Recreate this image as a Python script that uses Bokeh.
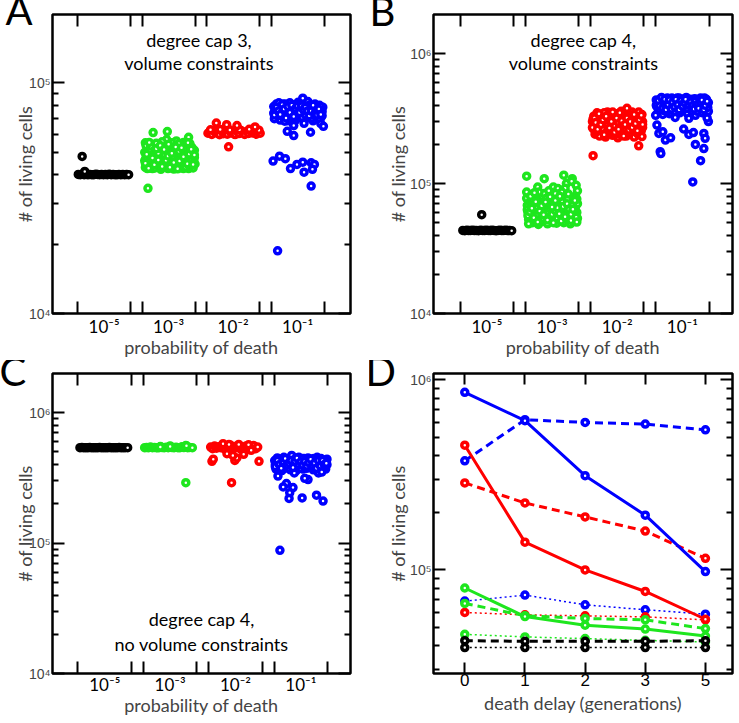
from bokeh.plotting import figure
from bokeh.models import Range1d, FixedTicker, LinearAxis, LogAxis, Label
from bokeh.layouts import gridplot
from bokeh.embed import file_html
from bokeh.resources import INLINE

FONT = "Lato"
TICKFONT = "Liberation Sans"
BLACK, GREEN, RED, BLUE = "#000000", "#1ee61e", "#ff0000", "#0000ff"

# ---------------- data ----------------
prob_labels = ["10⁻⁵", "10⁻³", "10⁻²", "10⁻¹"]
group_pos = [1, 2, 3, 4]

# Panel A: degree cap 3, volume constraints (offset inside group, value in thousands)
A_black_dx = [-0.40,-0.37,-0.34,-0.31,-0.28,-0.25,-0.22,-0.19,-0.16,-0.13,-0.10,-0.07,-0.04,-0.01,0.02,0.05,0.08,0.11,0.14,0.17,0.20,0.23,0.26,0.29,0.32,0.35,0.38,-0.34,-0.30]
A_black_k = [40.1,40.0,40.2,40.0,40.1,40.0,40.1,40.0,40.0,40.2,40.1,40.0,40.1,40.0,40.1,40.0,40.2,40.0,40.1,40.0,40.0,40.1,40.0,40.1,40.0,40.1,40.0,48.0,41.3]
A_green_dx = [-0.36,-0.24,-0.02,0.31,-0.03,0.23,0.12,-0.32,-0.37,-0.37,-0.36,-0.33,-0.32,-0.30,-0.28,-0.27,-0.25,-0.23,-0.22,-0.20,-0.18,-0.17,-0.15,-0.13,-0.12,-0.10,-0.08,-0.07,-0.05,-0.03,-0.01,0.01,0.03,0.05,0.06,0.08,0.10,0.11,0.13,0.15,0.17,0.18,0.20,0.22,0.24,0.26,0.27,0.29,0.31,0.32,0.34,0.35,0.37,0.38,0.39,0.40,0.41,0.33,-0.35,0.05,-0.19,0.26,0.36,
              -0.35,-0.31,-0.29,-0.26,-0.24,-0.21,-0.19,-0.16,-0.14,-0.11,-0.09,-0.06,-0.04,-0.02,0.00,0.02,0.04,0.07,0.09,0.12,0.14,0.16,0.19,0.21,0.23,0.25,0.28,0.30,0.33,0.36,0.38,0.40,-0.33,0.16,-0.10,
              -0.36,-0.34,-0.31,-0.28,-0.25,-0.22,-0.19,-0.16,-0.13,-0.10,-0.07,-0.04,-0.01,0.02,0.05,0.08,0.11,0.14,0.17,0.20,0.23,0.26,0.29,0.32,0.35,0.38,0.40,-0.30,0.00,0.30]
A_green_k = [55.0,60.9,61.5,58.1,56.8,55.1,56.0,34.9,50.0,46.0,43.0,48.0,52.5,44.5,47.0,50.5,42.5,45.0,53.0,49.0,43.5,47.0,51.0,45.0,42.2,48.5,53.5,44.0,46.5,50.0,42.5,47.5,44.0,52.0,49.0,42.3,46.0,50.5,44.5,48.0,42.8,53.0,46.5,50.0,43.5,48.0,45.5,52.0,42.5,47.0,50.0,44.0,48.5,42.8,46.0,51.0,44.5,54.5,53.5,55.0,54.8,53.8,52.5,
             47.5,45.5,51.5,44.0,48.0,42.8,46.0,49.5,43.0,52.0,45.5,48.5,43.5,52.5,45.0,49.5,42.8,47.0,51.0,43.5,46.5,50.5,44.5,48.0,42.5,51.0,46.0,49.5,43.5,46.5,50.0,47.5,42.5,54.5,55.5,
             44.8,49.0,42.6,53.2,47.3,44.2,51.8,46.3,53.5,43.4,51.4,46.2,48.2,43.1,49.5,45.2,52.7,42.4,45.8,52.3,47.8,43.2,44.6,49.2,51.5,44.3,48.7,55.2,54.2,55.0]
A_red_dx = [-0.39,-0.36,-0.33,-0.30,-0.27,-0.24,-0.21,-0.18,-0.15,-0.12,-0.09,-0.06,-0.03,0.00,0.03,0.06,0.09,0.12,0.15,0.18,0.21,0.24,0.27,0.30,0.33,0.36,0.39,0.42,-0.35,-0.20,-0.05,0.10,0.25,0.40,-0.26,-0.10,0.06,0.34,-0.07]
A_red_k = [60.5,61.5,59.8,62.0,60.8,61.2,59.6,62.3,60.2,61.0,59.9,62.1,60.6,61.4,59.7,61.8,60.3,62.2,60.9,59.8,61.6,60.4,62.0,60.7,61.3,59.9,61.1,60.5,62.6,62.8,62.5,62.7,62.9,62.4,67.0,65.9,65.3,64.4,52.8]
A_blue_dx = [-0.37,-0.37,-0.36,-0.33,-0.32,-0.30,-0.28,-0.27,-0.25,-0.23,-0.22,-0.20,-0.18,-0.17,-0.15,-0.13,-0.12,-0.10,-0.08,-0.07,-0.05,-0.03,-0.01,0.01,0.03,0.05,0.06,0.08,0.09,0.11,0.13,0.15,0.16,0.18,0.20,0.22,0.24,0.25,0.27,0.29,0.30,0.32,0.34,0.35,0.37,0.38,0.39,-0.20,0.10,0.36,
             -0.35,-0.31,-0.29,-0.26,-0.24,-0.21,-0.19,-0.16,-0.14,-0.11,-0.09,-0.06,-0.04,-0.02,0.00,0.02,0.04,0.07,0.10,0.12,0.14,0.17,0.19,0.21,0.23,0.26,0.28,0.31,0.33,0.36,0.38,
             -0.36,-0.33,-0.30,-0.27,-0.24,-0.21,-0.18,-0.15,-0.12,-0.09,-0.06,-0.03,0.00,0.03,0.06,0.09,0.12,0.15,0.18,0.21,0.24,0.27,0.30,0.33,0.36,
             -0.06,-0.16,-0.06,0.20,0.40,-0.38,-0.28,-0.19,-0.11,-0.01,0.08,0.21,0.26,0.10,0.23,0.21,-0.31]
A_blue_k = [79,74,70,81,76,72,79,69,75,81,71,77,73,80,68.5,75,82,71,78,73,80.5,69,76,82.5,72,78,74,85.9,69.5,80,75.5,71,83,77,73,79.5,68.5,75,81,71.5,77.5,73.5,80,69.5,76,72,78.5,68.2,66.8,66.5,
            77,74,82,72,78,74,81,76,72,78,74,76,71,79,73.5,77,81,71,76,72.5,78,74,80.5,70,76,72.5,78,75,70.5,79,75,
            72.5,78.5,75.5,73,80.5,77,70.5,79,74.5,80,71.5,77.5,79.5,74.5,79.5,76.5,78.5,75.5,72,75.5,80,74,72.5,77,73,
            65.3,61.7,59.1,61.1,64.8,45.8,48.1,46.9,42.5,44.3,45.3,45.0,44.3,41.0,42.2,35.7,18.7]

# Panel B: degree cap 4, volume constraints
B_black_dx = [-0.37,-0.34,-0.31,-0.28,-0.25,-0.22,-0.19,-0.16,-0.13,-0.10,-0.07,-0.04,-0.01,0.02,0.05,0.08,0.11,0.14,0.17,0.20,0.23,0.26,0.29,0.32,0.35,0.38,-0.08]
B_black_k = [43.6,43.4,43.7,43.5,43.6,43.8,43.5,43.6,43.4,43.7,43.6,43.5,43.8,43.6,43.5,43.7,43.6,43.4,43.6,43.8,43.5,43.6,43.7,43.5,43.6,43.4,57.6]
B_green_dx = [-0.39,-0.12,0.18,0.31,-0.39,0.02,-0.22,0.09,0.22,0.30,0.37,0.39,0.36,0.28,0.21,0.20,
              -0.39,-0.38,-0.37,-0.36,-0.34,-0.33,-0.31,-0.30,-0.29,-0.27,-0.26,-0.24,-0.22,-0.21,-0.19,-0.18,-0.16,-0.15,-0.13,-0.12,-0.10,-0.09,-0.07,-0.06,-0.04,-0.02,-0.01,0.01,0.03,0.04,0.06,0.07,0.09,0.11,0.12,0.14,0.15,0.17,0.18,0.20,0.22,0.23,0.25,0.27,0.28,0.30,0.32,0.33,0.35,0.36,0.38,0.39,0.39,
              -0.38,-0.35,-0.32,-0.30,-0.28,-0.25,-0.23,-0.20,-0.17,-0.14,-0.11,-0.08,-0.05,-0.03,0.00,0.02,0.05,0.08,0.10,0.13,0.16,0.19,0.21,0.24,0.26,0.29,0.31,0.34,0.37,0.38,-0.33,-0.20,-0.05,0.05,-0.36,
              -0.37,-0.34,-0.31,-0.28,-0.25,-0.22,-0.19,-0.16,-0.13,-0.10,-0.07,-0.04,-0.01,0.02,0.05,0.08,0.11,0.14,0.17,0.20,0.23,0.26,0.29,0.32,0.35,0.38,-0.27,0.00,0.12,0.25]
B_green_k = [114,109,116,109,86,94,94,91.5,100,104,97,88,80,78,84,92,
             77,68,60,53,72,64,57,50,81,69,61,54,75,48.5,66,58,51,71,62,84,55,77,49,67,59,73,52,64,80,56,70,49.5,61,75,54,66,86,58,50,71,62,53,68,56,49,64,72,58,51,66,60,54,70,
             63,56,69,75,52,65,58,71,63,54,68,60,53,79,58,69,62,54,68,59,72,63,55,76,60,52,68,61,55,76,80,86,88,84,49,
             56.5,60.5,64.5,54.5,72.5,50.5,61.5,67.5,57.5,72.0,52.5,64.5,69.5,50.0,74.0,65.0,58.5,51.5,66.5,55.5,70.0,63.5,58.0,63.5,74.0,50.5,85.0,66.0,80.0,83.0]
B_red_dx = [-0.38,-0.37,-0.36,-0.34,-0.33,-0.31,-0.30,-0.28,-0.27,-0.25,-0.24,-0.22,-0.21,-0.19,-0.18,-0.16,-0.15,-0.13,-0.12,-0.10,-0.09,-0.07,-0.06,-0.04,-0.02,-0.01,0.01,0.03,0.05,0.06,0.08,0.09,0.11,0.12,0.14,0.15,0.16,0.18,0.19,0.21,0.23,0.24,0.26,0.27,0.29,0.31,0.32,0.34,0.35,0.37,0.38,0.39,0.38,0.39,
            -0.37,-0.35,-0.32,-0.29,-0.26,-0.23,-0.20,-0.17,-0.14,-0.11,-0.08,-0.05,-0.03,0.00,0.02,0.04,0.07,0.10,0.13,0.17,0.20,0.22,0.25,0.28,0.30,0.33,0.36,0.36,
            -0.38,-0.35,-0.33,-0.30,-0.28,-0.25,-0.22,-0.20,-0.17,-0.15,-0.12,-0.09,-0.07,-0.04,-0.01,0.02,0.04,0.07,0.10,0.12,0.15,0.18,0.20,0.23,0.26,0.28,0.31,0.34,0.37,0.39,
            -0.37,0.33]
B_red_k = [300,265,330,240,285,350,255,310,232,275,340,295,250,320,228,270,355,300,245,330,280,235,310,260,345,290,225,320,238,360,285,250,330,300,232,379,268,340,305,245,355,280,228,315,262,345,240,295,325,255,230,300,340,270,
           315,282,250,335,300,265,350,290,255,315,345,280,238,330,295,270,340,305,265,320,280,335,298,250,285,355,280,310,
           270,320,295,262,345,285,310,238,330,280,268,300,355,248,320,262,350,305,232,285,320,258,300,270,340,290,255,310,335,285,
           164,195]
B_blue_dx = [-0.40,-0.39,-0.37,-0.35,-0.33,-0.31,-0.30,-0.28,-0.26,-0.24,-0.22,-0.20,-0.18,-0.16,-0.15,-0.13,-0.11,-0.09,-0.07,-0.05,-0.04,-0.02,0.00,0.02,0.04,0.06,0.08,0.09,0.11,0.13,0.15,0.17,0.19,0.20,0.22,0.24,0.26,0.28,0.29,0.31,0.33,0.35,0.37,0.38,0.40,0.40,-0.11,0.10,-0.41,
             -0.38,-0.36,-0.34,-0.32,-0.29,-0.27,-0.25,-0.23,-0.21,-0.19,-0.17,-0.14,-0.12,-0.10,-0.08,-0.06,-0.03,-0.01,0.01,0.03,0.05,0.07,0.10,0.12,0.14,0.16,0.18,0.21,0.23,0.25,0.27,0.30,0.32,0.34,0.36,0.39,
             -0.40,-0.37,-0.35,-0.32,-0.30,-0.27,-0.25,-0.22,-0.20,-0.17,-0.15,-0.12,-0.10,-0.07,-0.05,-0.02,0.00,0.03,0.05,0.08,0.10,0.13,0.15,0.18,0.20,0.23,0.25,0.28,0.30,0.33,0.35,0.38,
             -0.39,-0.36,-0.30,-0.26,-0.18,-0.34,-0.33,0.02,0.10,0.17,0.33,0.35,0.20,0.33,0.28,0.16,0.40,0.38]
B_blue_k = [440,390,355,420,375,450,340,400,365,435,385,345,415,455,370,400,335,430,380,455,350,410,440,370,395,460,345,425,380,445,360,410,450,335,390,430,365,455,400,350,425,380,445,405,420,360,323,318,335,
            420,375,445,400,365,420,390,455,365,430,390,440,360,410,455,395,430,365,415,450,380,410,440,400,420,380,435,415,360,445,395,430,390,455,410,385,
            400,435,395,460,380,445,370,405,440,375,420,390,445,405,370,435,395,420,445,380,400,425,395,375,430,405,380,420,440,370,400,430,
            282,243,250,216,225,176,170,263,239,247,243,223,200,186,150,103,300,320]

# Panel C: degree cap 4, no volume constraints
C_black_dx = [-0.38,-0.35,-0.32,-0.29,-0.26,-0.23,-0.20,-0.17,-0.14,-0.11,-0.08,-0.05,-0.02,0.01,0.04,0.07,0.10,0.13,0.16,0.19,0.22,0.25,0.28,0.31,0.35]
C_black_k = [540,541,540,539,540,541,540,540,539,540,541,540,540,539,540,541,540,540,539,540,541,540,540,539,540]
C_green_dx = [-0.39,-0.36,-0.33,-0.30,-0.27,-0.24,-0.21,-0.18,-0.15,-0.12,-0.09,-0.06,-0.03,0.00,0.03,0.06,0.09,0.12,0.15,0.18,0.21,0.24,0.27,0.30,0.34,-0.15,0.00,0.25,0.24]
C_green_k = [540,541,539,545,540,542,540,538,550,541,540,543,539,556,541,540,544,540,539,548,541,560,540,542,540,547,552,558,291]
C_red_dx = [-0.38,-0.35,-0.32,-0.29,-0.26,-0.23,-0.20,-0.17,-0.14,-0.11,-0.08,-0.05,-0.02,0.01,0.04,0.07,0.10,0.13,0.16,0.19,0.22,0.25,0.28,0.31,0.34,-0.19,-0.10,0.05,0.20,-0.36,-0.34,-0.01,0.02,0.125,0.36,-0.06,-0.13,-0.04,0.24]
C_red_k = [545,530,555,535,548,540,560,528,552,538,565,532,550,542,558,530,547,537,555,533,551,540,560,530,545,579,570,572,568,424,440,431,450,480,424,291,485,471,515]
C_blue_dx = [-0.40,-0.39,-0.38,-0.36,-0.34,-0.33,-0.31,-0.29,-0.28,-0.26,-0.24,-0.22,-0.20,-0.18,-0.16,-0.14,-0.13,-0.11,-0.09,-0.07,-0.05,-0.03,-0.01,0.01,0.03,0.05,0.07,0.09,0.11,0.13,0.15,0.17,0.19,0.21,0.23,0.25,0.27,0.29,0.31,0.33,0.35,0.37,0.38,0.40,0.40,0.32,0.27,-0.10,
             -0.37,-0.35,-0.32,-0.30,-0.27,-0.25,-0.23,-0.21,-0.19,-0.17,-0.15,-0.12,-0.08,-0.06,-0.04,-0.02,0.00,0.02,0.04,0.06,0.08,0.10,0.12,0.14,0.16,0.18,0.20,0.22,0.24,0.26,0.28,0.30,0.34,0.36,0.39,
             -0.39,-0.36,-0.33,-0.30,-0.27,-0.24,-0.21,-0.18,-0.15,-0.12,-0.09,-0.06,-0.03,0.00,0.03,0.06,0.09,0.12,0.15,0.18,0.21,0.24,0.27,0.30,0.33,0.36,0.39,
             -0.35,-0.22,-0.27,-0.12,-0.17,-0.18,0.02,0.24,0.34,0.11,0.32,0.06,-0.32]
C_blue_k = [430,400,370,450,415,385,440,360,405,455,380,425,395,445,365,471,410,385,440,360,420,455,390,430,370,445,405,375,450,420,390,440,365,430,400,455,375,420,445,390,435,410,370,440,400,355,345,345,
            415,390,425,400,440,395,410,440,375,425,400,430,410,390,435,405,375,445,410,385,430,400,440,410,380,420,445,385,420,440,395,410,420,390,425,
            385,430,400,375,420,445,395,410,430,380,425,450,400,420,395,425,390,415,440,395,410,375,430,390,430,400,410,
            327,286,270,267,243,220,222,233,210,307,351,314,88]

# Panel D: death delay
delay_labels = ["0", "1", "2", "3", "5"]
D_blue_solid = [8.6e5, 6.1e5, 3.13e5, 1.94e5, 0.98e5]
D_blue_dashed = [3.75e5, 6.17e5, 5.97e5, 5.85e5, 5.46e5]
D_blue_dotted = [6.85e4, 7.37e4, 6.55e4, 6.17e4, 5.85e4]
D_red_solid = [4.53e5, 1.40e5, 1.0e5, 7.7e4, 5.5e4]
D_red_dashed = [2.87e5, 2.25e5, 1.90e5, 1.60e5, 1.15e5]
D_red_dotted = [5.97e4, 5.8e4, 5.73e4, 5.66e4, 5.46e4]
D_green_solid = [8.03e4, 5.68e4, 5.12e4, 4.88e4, 4.49e4]
D_green_dashed = [6.66e4, 5.74e4, 5.55e4, 5.46e4, 4.91e4]
D_green_dotted = [4.58e4, 4.44e4, 4.35e4, 4.26e4, 4.17e4]
D_black_dashed = [4.24e4, 4.21e4, 4.21e4, 4.21e4, 4.24e4]
D_black_dotted = [3.9e4, 3.9e4, 3.9e4, 3.9e4, 3.9e4]

# ---------------- helpers ----------------
def sup(n):
    return "10" + str(n).translate(str.maketrans("-0123456789", "⁻⁰¹²³⁴⁵⁶⁷⁸⁹"))


def base_fig(width, height, xr, yr, bl, br, bt, bb, panel_letter, letter_offset, letter_standoff):
    p = figure(width=width, height=height, x_range=Range1d(*xr), y_range=Range1d(*yr),
               y_axis_type="log", output_backend="svg", toolbar_location=None,
               min_border_left=bl, min_border_right=br, min_border_top=bt, min_border_bottom=bb)
    p.grid.visible = False
    p.outline_line_color = "black"
    p.outline_line_width = 2.5
    p.background_fill_color = "white"
    p.border_fill_color = "white"
    # panel letter drawn as the figure title, pulled into the corner
    p.title.text = panel_letter
    p.title.align = "left"
    p.title.offset = letter_offset
    p.title.vertical_align = "top"
    p.title.standoff = letter_standoff
    p.title.text_font = FONT
    p.title.text_font_size = "40px"
    p.title.text_font_style = "normal"
    p.title.text_color = "black"
    return p


def style_axis(ax, tin, minin, show_labels, font, size, color="black", standoff=4, ticks=()):
    ax.axis_line_color = None
    ax.major_tick_in = tin
    ax.major_tick_out = 0
    ax.minor_tick_in = minin
    ax.minor_tick_out = 0
    ax.major_tick_line_width = 2
    ax.minor_tick_line_width = 2
    ax.major_tick_line_color = "black"
    ax.minor_tick_line_color = "black"
    if show_labels:
        ax.major_label_text_font = font
        ax.major_label_text_font_size = size
        ax.major_label_text_color = color
        ax.major_label_standoff = standoff
    else:
        ax.major_label_text_font_size = "1px"
        ax.major_label_overrides = {t: "" for t in ticks}
        ax.major_label_standoff = 0


def setup_axes(p, xticker, xover, yticker, yover, xtin, xminin, xfont, xsize, xlabel, ylabel,
               ylab_standoff, xlab_tick_standoff, xlab_standoff):
    xa = p.xaxis[0]
    xa.ticker = xticker
    xa.major_label_overrides = xover
    style_axis(xa, xtin, xminin, True, xfont, xsize, standoff=xlab_tick_standoff)
    xa.axis_label = xlabel
    xa.axis_label_text_font = FONT
    xa.axis_label_text_font_size = "18px"
    xa.axis_label_text_font_style = "normal"
    xa.axis_label_standoff = xlab_standoff
    ya = p.yaxis[0]
    ya.ticker = yticker
    ya.major_label_overrides = yover
    style_axis(ya, 12, 6, True, TICKFONT, "14px", color="#444444", standoff=2)
    ya.axis_label = ylabel
    ya.axis_label_text_font = FONT
    ya.axis_label_text_font_size = "18px"
    ya.axis_label_text_font_style = "normal"
    ya.axis_label_standoff = ylab_standoff
    top = LinearAxis(ticker=xticker)
    style_axis(top, xtin, xminin, False, FONT, "1px", ticks=list(xover.keys()))
    p.add_layout(top, "above")
    right = LogAxis(ticker=yticker)
    style_axis(right, 12, 6, False, FONT, "1px", ticks=list(yover.keys()))
    p.add_layout(right, "right")


def add_group(p, center, dx, vals_k, color):
    xs = [center + d for d in dx]
    ys = [v * 1000 for v in vals_k]
    p.scatter(xs, ys, marker="circle", size=6, fill_color="white", line_color=color, line_width=3.5)


def note(p, x, y, yoff, txt):
    p.add_layout(Label(x=x, y=y, y_offset=yoff, text=txt, text_font=FONT, text_font_size="18px",
                       text_align="center", text_baseline="middle", text_color="black"))


half = 0.41
edges = []
for c in group_pos:
    edges += [c - half, c + half]
prob_over = {c: lab for c, lab in zip(group_pos, prob_labels)}

ticks_34 = [1e4, 1e5]
minor_34 = [k * 1e4 for k in range(2, 10)]
ticks_46 = [1e4, 1e5, 1e6]
minor_46 = [k * 1e4 for k in range(2, 10)] + [k * 1e5 for k in range(2, 10)]

# ---------------- Panel A ----------------
yA = (1e4, 1.98e5)
pA = base_fig(369, 360, (0.2, 4.82), yA, 48, 19, 14, 45, "A", -47, -57)
setup_axes(pA, FixedTicker(ticks=group_pos, minor_ticks=edges), prob_over,
           FixedTicker(ticks=ticks_34, minor_ticks=minor_34), {t: sup(4 + i) for i, t in enumerate(ticks_34)},
           0, 12, FONT, "17px", "probability of death", "# of living cells", -10, 2, -4)
add_group(pA, 1, A_black_dx, A_black_k, BLACK)
add_group(pA, 2, A_green_dx, A_green_k, GREEN)
add_group(pA, 3, A_red_dx, A_red_k, RED)
add_group(pA, 4, A_blue_dx, A_blue_k, BLUE)
note(pA, 2.47, yA[1], -25, "degree cap 3,")
note(pA, 2.47, yA[1], -48, "volume constraints")

# ---------------- Panel B ----------------
yB = (1e4, 2.0e6)
pB = base_fig(370, 360, (0.18, 4.77), yB, 64, 7, 14, 47, "B", -64, -55)
setup_axes(pB, FixedTicker(ticks=group_pos, minor_ticks=edges), prob_over,
           FixedTicker(ticks=ticks_46, minor_ticks=minor_46), {t: sup(4 + i) for i, t in enumerate(ticks_46)},
           0, 12, FONT, "17px", "probability of death", "# of living cells", -2, 2, -4)
add_group(pB, 1, B_black_dx, B_black_k, BLACK)
add_group(pB, 2, B_green_dx, B_green_k, GREEN)
add_group(pB, 3, B_red_dx, B_red_k, RED)
add_group(pB, 4, B_blue_dx, B_blue_k, BLUE)
note(pB, 2.48, yB[1], -25, "degree cap 4,")
note(pB, 2.48, yB[1], -48, "volume constraints")

# ---------------- Panel C ----------------
yC = (1e4, 2.0e6)
pC = base_fig(369, 363, (0.2, 4.76), yC, 52, 19, 13, 50, "C", -53, -47)
setup_axes(pC, FixedTicker(ticks=group_pos, minor_ticks=edges), prob_over,
           FixedTicker(ticks=ticks_46, minor_ticks=minor_46), {t: sup(4 + i) for i, t in enumerate(ticks_46)},
           0, 12, FONT, "17px", "probability of death", "# of living cells", -10, 0, -4)
add_group(pC, 1, C_black_dx, C_black_k, BLACK)
add_group(pC, 2, C_green_dx, C_green_k, GREEN)
add_group(pC, 3, C_red_dx, C_red_k, RED)
add_group(pC, 4, C_blue_dx, C_blue_k, BLUE)
note(pC, 2.48, yC[0], 55, "degree cap 4,")
note(pC, 2.48, yC[0], 30, "no volume constraints")

# ---------------- Panel D ----------------
idx = list(range(len(delay_labels)))
pD = base_fig(370, 363, (-0.52, 4.45), (2.85e4, 1.08e6), 64, 7, 13, 50, "D", -68, -47)
ticksD = [1e5, 1e6]
minorD = [k * 1e4 for k in range(3, 10)] + [k * 1e5 for k in range(2, 10)]
setup_axes(pD, FixedTicker(ticks=idx), {i: lab for i, lab in zip(idx, delay_labels)},
           FixedTicker(ticks=ticksD, minor_ticks=minorD), {1e5: sup(5), 1e6: sup(6)},
           11, 0, TICKFONT, "17px", "death delay (generations)", "# of living cells", -2, 0, 3)

series = [
    (D_blue_dotted, BLUE, "2 3", 1.5),
    (D_red_dotted, RED, "2 3", 1.5),
    (D_green_dotted, GREEN, "2 3", 1.5),
    (D_black_dotted, BLACK, "2 3", 1.5),
    (D_green_dashed, GREEN, "8 5", 3),
    (D_red_dashed, RED, "8 5", 3),
    (D_blue_dashed, BLUE, "8 5", 3),
    (D_green_solid, GREEN, "solid", 3),
    (D_red_solid, RED, "solid", 3),
    (D_blue_solid, BLUE, "solid", 3),
    (D_black_dashed, BLACK, "8 5", 3),
]
for vals, col, dash, lw in series:
    pD.line(idx, vals, line_color=col, line_dash=dash, line_width=lw)
    pD.scatter(idx, vals, marker="circle", size=6, fill_color="white", line_color=col, line_width=3.5)

grid = gridplot([[pA, pB], [pC, pD]], toolbar_location=None)
open("out.html", "w").write(file_html(grid, INLINE))
